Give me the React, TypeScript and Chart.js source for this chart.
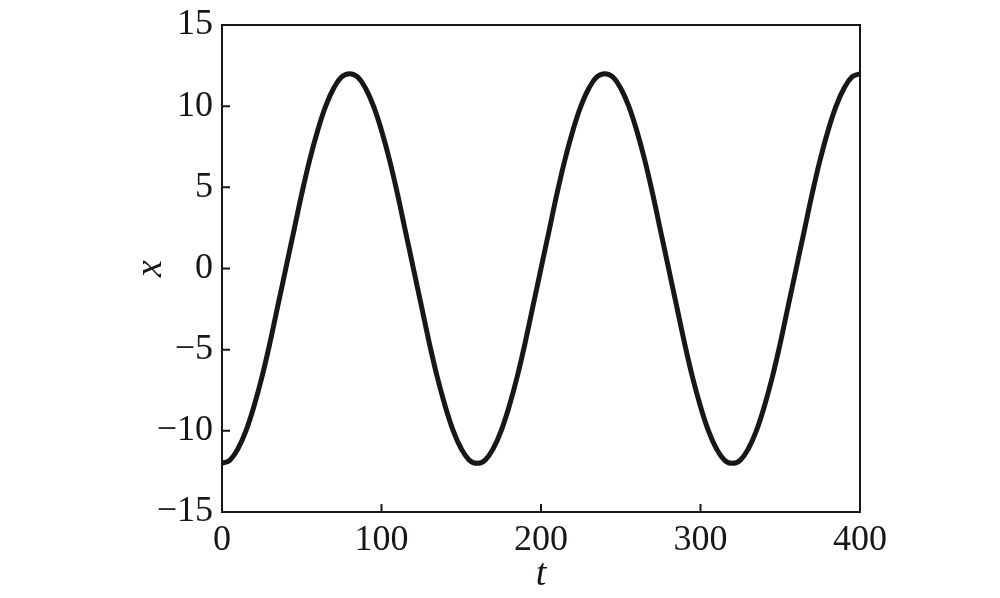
import React, { useEffect, useRef } from 'react';
import Chart from 'chart.js/auto';

// time samples (t) and the displacement (x)
const tValues = [
  0, 5, 10, 15, 20, 25, 30, 35, 40, 45, 50, 55, 60, 65, 70, 75, 80,
  85, 90, 95, 100, 105, 110, 115, 120, 125, 130, 135, 140, 145, 150, 155, 160,
  165, 170, 175, 180, 185, 190, 195, 200, 205, 210, 215, 220, 225, 230, 235, 240,
  245, 250, 255, 260, 265, 270, 275, 280, 285, 290, 295, 300, 305, 310, 315, 320,
  325, 330, 335, 340, 345, 350, 355, 360, 365, 370, 375, 380, 385, 390, 395, 400,
];
const xValues = [
  -12, -11.8, -11.1, -10, -8.5, -6.7, -4.6, -2.3, 0, 2.3, 4.6, 6.7, 8.5, 10, 11.1, 11.8, 12,
  11.8, 11.1, 10, 8.5, 6.7, 4.6, 2.3, 0, -2.3, -4.6, -6.7, -8.5, -10, -11.1, -11.8, -12,
  -11.8, -11.1, -10, -8.5, -6.7, -4.6, -2.3, 0, 2.3, 4.6, 6.7, 8.5, 10, 11.1, 11.8, 12,
  11.8, 11.1, 10, 8.5, 6.7, 4.6, 2.3, 0, -2.3, -4.6, -6.7, -8.5, -10, -11.1, -11.8, -12,
  -11.8, -11.1, -10, -8.5, -6.7, -4.6, -2.3, 0, 2.3, 4.6, 6.7, 8.5, 10, 11.1, 11.8, 12,
];
const xTicks = [0, 100, 200, 300, 400];
const yTicks = [-15, -10, -5, 0, 5, 10, 15];

const INK = '#1a1614';
const FONT = "'Liberation Serif', 'DejaVu Serif', serif";

// frame round the plot area, with short inward ticks on left and bottom
const framePlugin = {
  id: 'frame',
  afterDraw(chart: any) {
    const { ctx, chartArea: a, scales } = chart;
    ctx.save();
    ctx.strokeStyle = INK;
    ctx.lineWidth = 2;
    ctx.strokeRect(a.left, a.top, a.right - a.left, a.bottom - a.top);
    ctx.beginPath();
    xTicks.forEach((v) => {
      const px = scales.x.getPixelForValue(v);
      ctx.moveTo(px, a.bottom);
      ctx.lineTo(px, a.bottom - 8);
    });
    yTicks.forEach((v) => {
      const py = scales.y.getPixelForValue(v);
      ctx.moveTo(a.left, py);
      ctx.lineTo(a.left + 8, py);
    });
    ctx.stroke();
    ctx.restore();
  },
};

const LineChart: React.FC = () => {
  const chartRef = useRef<HTMLCanvasElement>(null);

  useEffect(() => {
    const ctx = chartRef.current?.getContext('2d');
    if (!ctx) return;

    const myChart = new Chart(ctx, {
      type: 'line',
      data: {
        datasets: [
          {
            data: tValues.map((t, i) => ({ x: t, y: xValues[i] })),
            borderColor: INK,
            borderWidth: 5,
            pointRadius: 0,
            tension: 0.4,
            fill: false,
          },
        ],
      },
      options: {
        animation: false,
        responsive: false,
        layout: { padding: { left: 128, right: 140, top: 25, bottom: 0 } },
        plugins: { legend: { display: false }, tooltip: { enabled: false } },
        scales: {
          x: {
            type: 'linear',
            min: 0,
            max: 400,
            afterBuildTicks: (scale: any) => {
              scale.ticks = xTicks.map((v) => ({ value: v }));
            },
            afterFit: (scale: any) => {
              scale.height = 86;
            },
            grid: { display: false, drawTicks: false },
            border: { display: false },
            ticks: {
              color: INK,
              padding: 7,
              maxRotation: 0,
              font: { family: FONT, size: 36 },
            },
            title: {
              display: true,
              text: 't',
              color: INK,
              padding: { top: -10, bottom: 0 },
              font: { family: FONT, size: 38, style: 'italic' },
            },
          },
          y: {
            min: -15,
            max: 15,
            afterBuildTicks: (scale: any) => {
              scale.ticks = yTicks.map((v) => ({ value: v }));
            },
            afterFit: (scale: any) => {
              scale.width = 94;
              scale.paddingTop = 0;
              scale.paddingBottom = 0;
            },
            grid: { display: false, drawTicks: false },
            border: { display: false },
            ticks: {
              color: INK,
              padding: 9,
              font: { family: FONT, size: 36 },
              callback: (v: any) => String(v).replace('-', '\u2212'),
            },
            title: {
              display: true,
              text: 'x',
              color: INK,
              padding: { top: 0, bottom: 0 },
              font: { family: FONT, size: 38, style: 'italic' },
            },
          },
        },
      },
      plugins: [framePlugin],
    });

    return () => {
      myChart.destroy();
    };
  }, []);

  return (
    <div style={{ position: 'absolute', left: 0, top: 0, width: 1000, height: 598, background: '#fff' }}>
      <canvas ref={chartRef} width={1000} height={598} style={{ width: 1000, height: 598 }}></canvas>
    </div>
  );
};

export default function App() {
  return <LineChart />;
}
